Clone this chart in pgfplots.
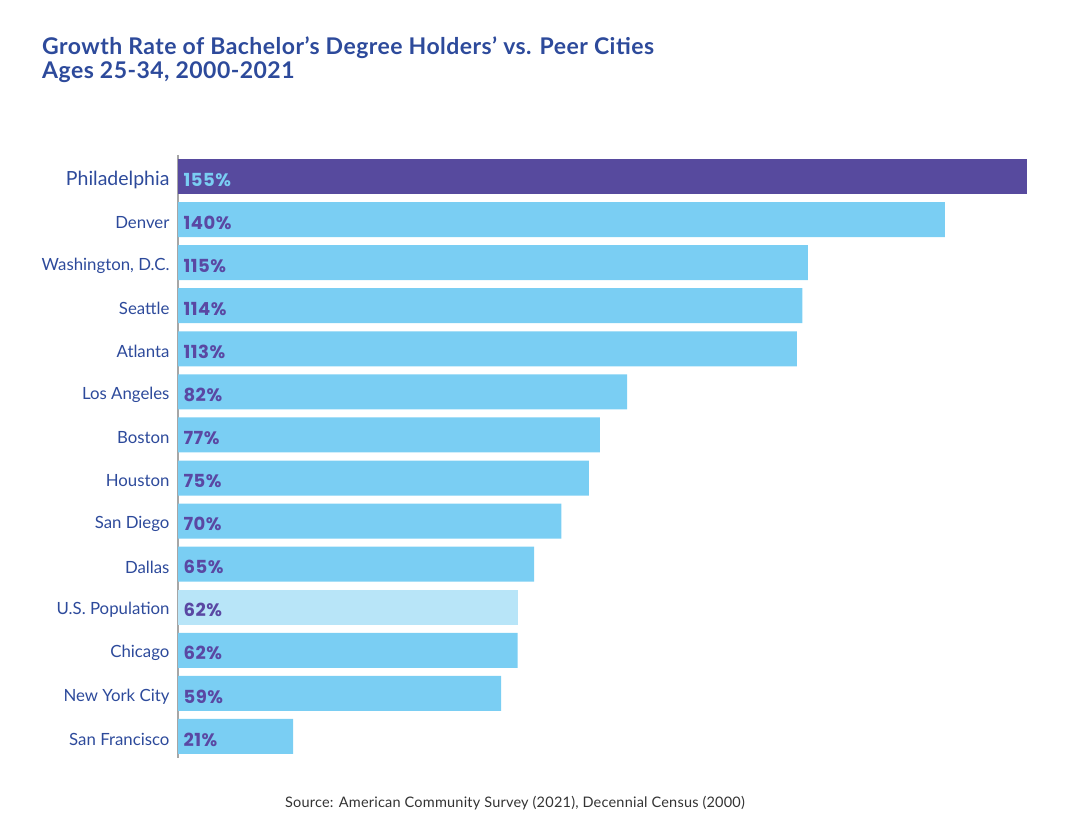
\documentclass[border=0pt]{standalone}
\usepackage{fontspec}
\setmainfont{Lato}
\newfontfamily\pop[LetterSpace=3]{Poppins}
\newfontfamily\titlefont[LetterSpace=2]{Lato}
\newfontfamily\srcfont[LetterSpace=1.5]{Lato}
\usepackage{pgfplots}
\usepackage{pgfplotstable}
\pgfplotsset{compat=1.18}
\definecolor{purp}{HTML}{574A9E}
\definecolor{sky}{HTML}{7ACEF3}
\definecolor{pale}{HTML}{B8E5F8}
\definecolor{navy}{HTML}{2D4A9B}
\definecolor{vallab}{HTML}{5A48A3}
\pgfplotstableread{
y x
1 140
2 115
3 114
4 113
5 82
6 77
7 75
8 70
9 65
11 62
12 59
13 21
}\cities
\pgfplotstableread{
y x
10 62
}\usp
\pgfplotstableread{
y x
0 155
}\phl
\begin{document}
\begin{tikzpicture}
\useasboundingbox (0pt,0pt) rectangle (1076pt,837pt);
\node[anchor=base west, text=navy, font=\titlefont\fontsize{23}{26}\selectfont\bfseries, inner sep=0] at (42pt,782pt) {Growth Rate of Bachelor’s Degree Holders’ vs. Peer Cities};
\node[anchor=base west, text=navy, font=\titlefont\fontsize{23}{26}\selectfont\bfseries, inner sep=0] at (42pt,758pt) {Ages 25-34, 2000-2021};
\node[anchor=center, text=black!80, font=\srcfont\fontsize{14.5}{17}\selectfont, inner sep=0] at (515pt,34pt) {Source: American Community Survey (2021), Decennial Census (2000)};
\begin{axis}[
  at={(178pt,79pt)}, anchor=south west,
  width=849pt, height=603pt, scale only axis,
  xmin=0, xmax=155, ymin=-0.5, ymax=13.5,
  y dir=reverse,
  xbar, bar width=35pt, bar shift=0pt,
  axis x line=none,
  axis y line*=left,
  y axis line style={draw=black!35, line width=1.5pt},
  ytick={0,...,13},
  yticklabels={{\fontsize{19.5}{22}\selectfont Philadelphia},Denver,{Washington, D.C.},Seattle,Atlanta,Los Angeles,Boston,Houston,San Diego,Dallas,U.S. Population,Chicago,New York City,San Francisco},
  major tick length=0pt,
  yticklabel style={text=navy, font=\fontsize{16.8}{19}\selectfont, anchor=east, xshift=-5pt, yshift=-3pt},
  clip=false,
]
\addplot[fill=purp, draw=none] table[x=x,y=y] {\phl};
\addplot[fill=sky, draw=none] table[x=x,y=y] {\cities};
\addplot[fill=pale, draw=none] table[x=x,y=y] {\usp};
\addplot[draw=none, mark=none, xbar=false, point meta=explicit symbolic,
  nodes near coords={\pgfplotspointmeta\%},
  nodes near coords align={anchor=west},
  every node near coord/.append style={anchor=west, xshift=2pt, yshift=-3pt, text=sky, font=\pop\bfseries\fontsize{18}{20}\selectfont}]
  table[x expr=0, y=y, meta=x] {\phl};
\addplot[draw=none, mark=none, xbar=false, point meta=explicit symbolic,
  nodes near coords={\pgfplotspointmeta\%},
  nodes near coords align={anchor=west},
  every node near coord/.append style={anchor=west, xshift=2pt, yshift=-3pt, text=vallab, font=\pop\bfseries\fontsize{18}{20}\selectfont}]
  table[x expr=0, y=y, meta=x] {\cities};
\addplot[draw=none, mark=none, xbar=false, point meta=explicit symbolic,
  nodes near coords={\pgfplotspointmeta\%},
  nodes near coords align={anchor=west},
  every node near coord/.append style={anchor=west, xshift=2pt, yshift=-3pt, text=vallab, font=\pop\bfseries\fontsize{18}{20}\selectfont}]
  table[x expr=0, y=y, meta=x] {\usp};
\end{axis}
\end{tikzpicture}
\end{document}
